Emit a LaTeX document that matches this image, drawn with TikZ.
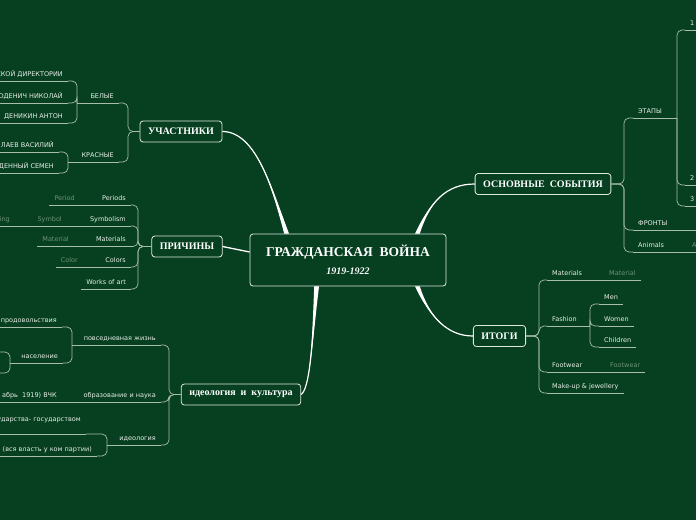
\documentclass[tikz,border=0pt]{standalone}
\usepackage{fontspec}
\setmainfont{Liberation Serif}
\newfontfamily\labfont{DejaVu Sans}
\usetikzlibrary{calc}

\definecolor{bg}{RGB}{6,64,32}
\definecolor{twig}{RGB}{168,190,170}
\definecolor{txt}{RGB}{232,238,232}
\definecolor{dim}{RGB}{110,146,116}
\definecolor{edge}{RGB}{225,232,225}

% tapered main branch: thick end at #1, thin end at #4
\newcommand\trunk[4]{%
  \fill[white] ($(#1)+(-2.4,0)$) .. controls #2 and #3 .. (#4)
    .. controls #3 and #2 .. ($(#1)+(2.4,0)$) -- cycle;
  \draw[white, line width=1.2pt] (#1) .. controls #2 and #3 .. (#4);}

\begin{document}
\begin{tikzpicture}[
    x=1pt, y=-1pt,
    topic/.style={draw=edge, line width=0.8pt, fill=bg, rounded corners=3pt,
                  text=white, font=\bfseries\fontsize{10}{12}\selectfont,
                  minimum height=21pt, inner xsep=8pt},
    lbl/.style={text=txt, font=\labfont\fontsize{6.5}{8}\selectfont,
                inner xsep=5pt, inner ysep=2.5pt, text height=5pt, text depth=2pt},
    sub/.style={lbl, text=dim},
    ln/.style={draw=twig, line width=0.7pt},
    br/.style={ln, rounded corners=5pt},
]
\useasboundingbox (0,0) rectangle (696,520);
\fill[bg] (0,0) rectangle (696,520);
\clip (0,0) rectangle (696,520);

% main topics
\node[topic, minimum width=196pt, minimum height=52pt, align=center] (gw) at (348,260)
    {{\fontsize{13.5}{16}\selectfont ГРАЖДАНСКАЯ\ \ ВОЙНА}\\[6pt]
     {\fontsize{10}{11}\selectfont\itshape 1919-1922}};
\node[topic] (uch) at (181,131.5) {УЧАСТНИКИ};
\node[topic] (osn) at (543,184) {ОСНОВНЫЕ\ \ СОБЫТИЯ};
\node[topic] (pri) at (187,246.5) {ПРИЧИНЫ};
\node[topic] (ito) at (499.5,336) {ИТОГИ};
\node[topic] (ide) at (241,394.5) {идеология\ \ и\ \ культура};

\coordinate (tu) at ($(gw.north west)+(37,0)$);
\coordinate (to) at ($(gw.north east)+(-29,0)$);
\coordinate (tt) at ($(gw.south east)+(-29,0)$);
\coordinate (ti) at ($(gw.south west)+(67,0)$);
\coordinate (tp) at ($(gw.west)+(0,-8)$);

\trunk{tu}{(273,192)}{(257,131.5)}{uch.east}
\trunk{to}{(430,202)}{(446,184)}{osn.west}
\trunk{tt}{(430,318)}{(448,336)}{ito.west}
\trunk{ti}{(312,345)}{(310,388)}{ide.east}
\draw[white, line width=1.3pt] (pri.east) -- (tp);

% УЧАСТНИКИ
\coordinate (fu) at (128,131.5);
\node[lbl, anchor=south east] (bel) at (119,103) {БЕЛЫЕ};
\node[lbl, anchor=south east] (kra) at (119,162) {КРАСНЫЕ};
\coordinate (fb) at (77,103);
\node[lbl, anchor=south east] (dir) at (68,81) {СКОЙ ДИРЕКТОРИИ};
\node[lbl, anchor=south east] (nik) at (68,103) {ОДЕНИЧ НИКОЛАЙ};
\node[lbl, anchor=south east] (den) at (68,123) {ДЕНИКИН АНТОН};
\coordinate (fk) at (68,162);
\node[lbl, anchor=south east] (cha) at (59,152) {ЛАЕВ ВАСИЛИЙ};
\node[lbl, anchor=south east] (bud) at (59,173) {ДЕННЫЙ СЕМЕН};

\foreach \n in {bel,kra} \draw[br] (uch.west) -- (fu) |- (\n.south east);
\draw[ln] (bel.south west) -- (fb);
\foreach \n in {dir,nik,den} \draw[br] (fb) |- (\n.south east);
\draw[ln] (kra.south west) -- (fk);
\foreach \n in {cha,bud} \draw[br] (fk) |- (\n.south east);

% ПРИЧИНЫ
\coordinate (fp) at (138,246.5);
\node[lbl, anchor=south east] (per) at (131,205) {Periods};
\node[lbl, anchor=south east] (sym) at (131,226) {Symbolism};
\node[lbl, anchor=south east] (mat) at (131,246.5) {Materials};
\node[lbl, anchor=south east] (col) at (131,267) {Colors};
\node[lbl, anchor=south east] (wor) at (131,289) {Works of art};
\node[sub, anchor=south east] (per1) at (80,205) {Period};
\node[sub, anchor=south east] (sym1) at (67,226) {Symbol};
\node[sub, anchor=south east] (sym2) at (15,226) {ing};
\node[sub, anchor=south east] (mat1) at (74,246.5) {Material};
\node[sub, anchor=south east] (col1) at (83,267) {Color};

\foreach \n in {per,sym,mat,col,wor} \draw[br] (pri.west) -- (fp) |- (\n.south east);
\draw[ln] (per.south west) -- (per1.south east);
\draw[ln] (sym.south west) -- (sym1.south east);
\draw[ln] (sym1.south west) -- (sym2.south east);
\draw[ln] (mat.south west) -- (mat1.south east);
\draw[ln] (col.south west) -- (col1.south east);

% идеология и культура
\coordinate (fi) at (169,394.5);
\node[lbl, anchor=south east] (pov) at (161,345) {повседневная жизнь};
\node[lbl, anchor=south east] (obr) at (161,402) {образование и наука};
\node[lbl, anchor=south east] (ideo) at (161,445) {идеология};
\coordinate (fpv) at (72,345);
\node[lbl, anchor=south east] (pro) at (62,327) {а продовольствия};
\node[lbl, anchor=south east] (nas) at (63,363) {население};
\coordinate (fns) at (10,363);
\coordinate (nsa) at (-20,352);
\coordinate (nsb) at (-20,373);
\node[lbl, anchor=south east] (vchk) at (62,402) {абрь\ \ 1919) ВЧК};
\coordinate (fid) at (107,445);
\node[lbl, anchor=south east, align=right] (gos) at (86,434) {ударства- государством\\\strut};
\node[lbl, anchor=south east] (vla) at (97,456) {а (вся власть у ком партии)};

\foreach \n in {pov,obr,ideo} \draw[br] (ide.west) -- (fi) |- (\n.south east);
\draw[ln] (pov.south west) -- (fpv);
\foreach \n in {pro,nas} \draw[br] (fpv) |- (\n.south east);
\draw[ln] (nas.south west) -- (fns);
\foreach \n in {nsa,nsb} \draw[br] (fns) |- (\n);
\draw[ln] (obr.south west) -- (vchk.south east);
\draw[ln] (ideo.south west) -- (fid);
\foreach \n in {gos,vla} \draw[br] (fid) |- (\n.south east);

% ОСНОВНЫЕ СОБЫТИЯ
\coordinate (fo) at (624,184);
\node[lbl, anchor=south west] (eta) at (633,118) {ЭТАПЫ};
\node[lbl, anchor=south west] (fro) at (633,230) {ФРОНТЫ};
\node[lbl, anchor=south west] (ani) at (633,252) {Animals};
\coordinate (fe) at (677,118);
\node[lbl, anchor=south west] (e1) at (685,30) {1};
\node[lbl, anchor=south west] (e2) at (685,185) {2};
\node[lbl, anchor=south west] (e3) at (685,206) {3};
\coordinate (fr) at (705,230);
\node[sub, anchor=south west] (ani1) at (687,252) {Animal};

\foreach \n in {eta,fro,ani} \draw[br] (osn.east) -- (fo) |- (\n.south west);
\draw[ln] (eta.south east) -- (fe);
\foreach \n in {e1,e2,e3} \draw[br] (fe) |- (\n.south west);
\draw[ln] (fro.south east) -- (fr);
\draw[ln] (ani.south east) -- (ani1.south west);

% ИТОГИ
\coordinate (ft) at (539,336);
\node[lbl, anchor=south west] (mts) at (547,280) {Materials};
\node[lbl, anchor=south west] (fas) at (547,326) {Fashion};
\node[lbl, anchor=south west] (foo) at (547,372) {Footwear};
\node[lbl, anchor=south west] (mak) at (547,393) {Make-up \& jewellery};
\node[sub, anchor=south west] (mts1) at (604,280) {Material};
\node[sub, anchor=south west] (foo1) at (605,372) {Footwear};
\coordinate (ff) at (590,326);
\node[lbl, anchor=south west] (men) at (599,304) {Men};
\node[lbl, anchor=south west] (wom) at (599,326) {Women};
\node[lbl, anchor=south west] (chi) at (599,347) {Children};

\foreach \n in {mts,fas,foo,mak} \draw[br] (ito.east) -- (ft) |- (\n.south west);
\draw[ln] (mts.south east) -- (mts1.south west);
\draw[ln] (foo.south east) -- (foo1.south west);
\draw[ln] (fas.south east) -- (ff);
\foreach \n in {men,wom,chi} \draw[br] (ff) |- (\n.south west);

% underlines
\foreach \n in {bel,kra,dir,nik,den,cha,bud,per,sym,mat,col,wor,per1,sym1,sym2,
                mat1,col1,pov,obr,ideo,pro,nas,vchk,gos,vla,eta,fro,ani,e1,e2,e3,
                ani1,mts,fas,foo,mak,mts1,foo1,men,wom,chi}
  \draw[ln] (\n.south west) -- (\n.south east);
\end{tikzpicture}
\end{document}
